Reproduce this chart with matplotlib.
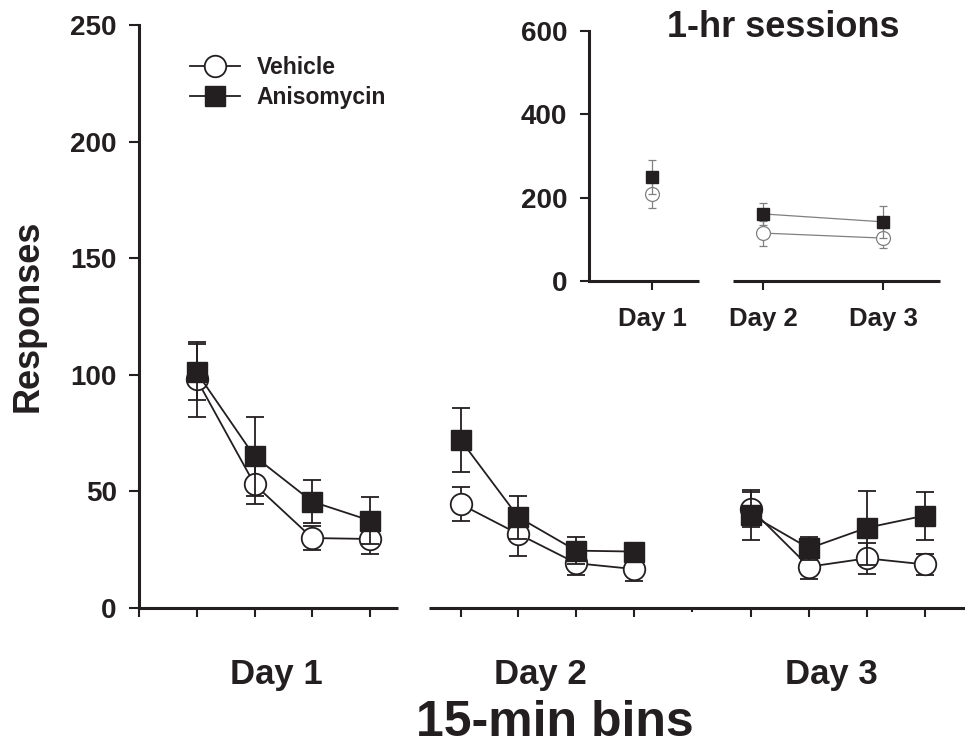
import matplotlib
matplotlib.use('Agg')
import matplotlib.pyplot as plt
import numpy as np

# 15-min bins, one group of four per day
bins = [1, 2, 3, 4]
day_names = ['Day 1', 'Day 2', 'Day 3']
day_offsets = [0, 4.57, 9.6]

vehicle_day1 = [98, 53, 30, 29.6]
vehicle_day1_err = [16, 8.5, 5, 6.4]
aniso_day1 = [101, 65, 45.6, 37.5]
aniso_day1_err = [12, 17, 9.3, 10]

vehicle_day2 = [44.5, 31.7, 19.2, 16.7]
vehicle_day2_err = [7.3, 9.4, 5, 5]
aniso_day2 = [72, 38.9, 24.6, 24.2]
aniso_day2_err = [13.6, 9.2, 5.7, 2.5]

vehicle_day3 = [42.3, 17.7, 21.3, 18.7]
vehicle_day3_err = [7.6, 5.3, 6.7, 4.5]
aniso_day3 = [39.9, 25.6, 34.4, 39.6]
aniso_day3_err = [10.7, 5, 15.8, 10.3]

# 1-hr sessions (inset)
session_names = ['Day 1', 'Day 2', 'Day 3']
session_pos = [0.525, 1.45, 2.45]
vehicle_hr = [210, 115, 103]
vehicle_hr_err = [35, 30, 24]
aniso_hr = [250, 161, 142]
aniso_hr_err = [40, 26, 38]

plt.rcParams['font.family'] = ['Liberation Sans', 'DejaVu Sans']
plt.rcParams['font.weight'] = 'bold'
ink = '#231f20'
grey = '#808080'

fig = plt.figure(figsize=(9.65, 7.47), dpi=100)
ax = fig.add_axes([139 / 965, 139 / 747, 826 / 965, 583 / 747])

vehicle = [vehicle_day1, vehicle_day2, vehicle_day3]
vehicle_err = [vehicle_day1_err, vehicle_day2_err, vehicle_day3_err]
aniso = [aniso_day1, aniso_day2, aniso_day3]
aniso_err = [aniso_day1_err, aniso_day2_err, aniso_day3_err]

bin_ticks = [0]
for d, off in enumerate(day_offsets):
    x = np.array(bins) + off
    bin_ticks += list(x)
    ax.errorbar(x, vehicle[d], yerr=vehicle_err[d], fmt='none', ecolor=ink,
                elinewidth=1.3, capsize=6.8, capthick=1.3, zorder=2)
    ax.plot(x, vehicle[d], '-o', color=ink, lw=1.3, ms=15.5, mfc='white',
            mec=ink, mew=1.3, zorder=3, label='Vehicle' if d == 0 else None)
    ax.errorbar(x, aniso[d], yerr=aniso_err[d], fmt='none', ecolor=ink,
                elinewidth=1.3, capsize=6.8, capthick=1.3, zorder=4)
    ax.plot(x, aniso[d], '-s', color=ink, lw=1.3, ms=14.5, mfc=ink,
            mec=ink, zorder=5, label='Anisomycin' if d == 0 else None)
    ax.text(x.mean() - 0.12, -0.13, day_names[d], transform=ax.get_xaxis_transform(),
            ha='center', va='baseline', fontsize=25, color=ink)

ax.set_xlim(0, 14.3)
ax.set_ylim(0, 250)
ax.set_yticks([0, 50, 100, 150, 200, 250])
ax.set_xticks(bin_ticks)
ax.set_xticklabels([])
ax.set_xticks([9.57], minor=True)
for s in ['top', 'right', 'bottom']:
    ax.spines[s].set_visible(False)
ax.spines['left'].set_linewidth(2.2)
ax.spines['left'].set_color(ink)
# broken x axis
ax.plot([0, 4.48], [0, 0], color=ink, lw=2.2, clip_on=False, solid_capstyle='butt')
ax.plot([5.02, 14.3], [0, 0], color=ink, lw=2.2, clip_on=False, solid_capstyle='butt')
ax.tick_params(axis='y', direction='out', length=7, width=1.5, color=ink,
               labelsize=20, pad=9, labelcolor=ink)
ax.tick_params(axis='x', which='major', direction='out', length=6.5, width=1.5, color=ink)
ax.tick_params(axis='x', which='minor', direction='out', length=3, width=1.5, color=ink)

ax.legend(loc='upper left', bbox_to_anchor=(190 / 965, 1 - 56 / 747),
          bbox_transform=fig.transFigure, frameon=False, fontsize=16.5,
          handlelength=2.2, handletextpad=0.7, borderpad=0, borderaxespad=0,
          labelspacing=0.3, labelcolor=ink)

fig.text(28.5 / 965, 1 - 316 / 747, 'Responses', rotation=90, ha='center',
         va='center', fontsize=26, color=ink)
fig.text(555 / 965, 1 - 736 / 747, '15-min bins', ha='center', va='baseline',
         fontsize=36, color=ink)

# inset: 1-hr sessions
axin = fig.add_axes([589 / 965, (747 - 281) / 747, 351 / 965, 250 / 747])
sx = np.array(session_pos)
axin.errorbar(sx, vehicle_hr, yerr=vehicle_hr_err, fmt='none', ecolor=grey,
              elinewidth=0.9, capsize=3.2, capthick=0.9, zorder=2)
axin.plot(sx[1:], vehicle_hr[1:], '-', color=grey, lw=0.9, zorder=2)
axin.plot(sx, vehicle_hr, 'o', ms=10, mfc='white', mec=grey, mew=0.9, zorder=3)
axin.errorbar(sx, aniso_hr, yerr=aniso_hr_err, fmt='none', ecolor=grey,
              elinewidth=0.9, capsize=3.2, capthick=0.9, zorder=4)
axin.plot(sx[1:], aniso_hr[1:], '-', color=grey, lw=0.9, zorder=4)
axin.plot(sx, aniso_hr, 's', ms=9, mfc=ink, mec=ink, zorder=5)

axin.set_xlim(0, 2.925)
axin.set_ylim(0, 600)
axin.set_yticks([0, 200, 400, 600])
axin.set_xticks(sx)
axin.set_xticklabels(session_names)
for s in ['top', 'right', 'bottom']:
    axin.spines[s].set_visible(False)
axin.spines['left'].set_linewidth(2.2)
axin.spines['left'].set_color(ink)
axin.plot([0, 0.917], [0, 0], color=ink, lw=2.2, clip_on=False, solid_capstyle='butt')
axin.plot([1.2, 2.925], [0, 0], color=ink, lw=2.2, clip_on=False, solid_capstyle='butt')
axin.tick_params(axis='y', direction='out', length=6.5, width=1.5, color=ink,
                 labelsize=20, pad=9, labelcolor=ink)
axin.tick_params(axis='x', direction='out', length=6.5, width=1.5, color=ink,
                 labelsize=18.5, pad=12, labelcolor=ink)
axin.patch.set_alpha(0)

fig.text(783 / 965, 1 - 37 / 747, '1-hr sessions', ha='center', va='baseline',
         fontsize=26, color=ink)

plt.savefig('out.png', dpi=100)
